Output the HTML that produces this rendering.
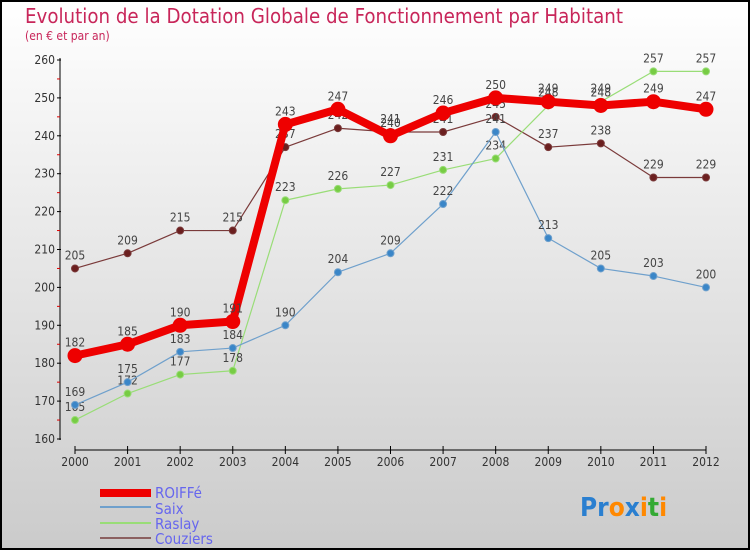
<!DOCTYPE html>
<html><head><meta charset="utf-8"><style>
body{margin:0}
svg text{font-family:"DejaVu Sans Condensed","Liberation Sans",sans-serif}
</style></head><body>
<svg id="c" width="750" height="550" xmlns="http://www.w3.org/2000/svg">
<defs><linearGradient id="bg" x1="0" y1="0" x2="0" y2="1"><stop offset="0" stop-color="#ffffff"/><stop offset="1" stop-color="#cbcbcb"/></linearGradient></defs>
<rect x="1" y="1" width="748" height="548" fill="url(#bg)" stroke="#000" stroke-width="2"/>
<text x="25" y="23" font-size="20" fill="#c8265a" textLength="598" lengthAdjust="spacingAndGlyphs">Evolution de la Dotation Globale de Fonctionnement par Habitant</text>
<text x="25" y="40" font-size="12" fill="#c8265a">(en € et par an)</text>
<g id="axes"></g><g id="series"></g>
<g>
<rect x="100" y="489" width="51" height="8" fill="#ee0000"/>
<text x="155" y="498" font-size="15" fill="#6666ee">ROIFFé</text>
<rect x="100" y="506" width="51" height="2" fill="#6fa0cc"/>
<text x="155" y="514" font-size="15" fill="#6666ee">Saix</text>
<rect x="100" y="522" width="51" height="2" fill="#99dd77"/>
<text x="155" y="529" font-size="15" fill="#6666ee">Raslay</text>
<rect x="100" y="537" width="51" height="2" fill="#8b6060"/>
<text x="155" y="544" font-size="15" fill="#6666ee">Couziers</text>
</g>
<text x="580" y="516" font-size="26" font-weight="bold"><tspan fill="#2a7fd0">Pr</tspan><tspan fill="#ff8800">o</tspan><tspan fill="#2a7fd0">x</tspan><tspan fill="#ff8800">i</tspan><tspan fill="#33aa33">t</tspan><tspan fill="#ff8800">i</tspan></text>
</svg>
<script>
const years=[2000,2001,2002,2003,2004,2005,2006,2007,2008,2009,2010,2011,2012];
const yTicks=[160,170,180,190,200,210,220,230,240,250,260];
const roiffe=[182,185,190,191,243,247,240,246,250,249,248,249,247];
const saix=[169,175,183,184,190,204,209,222,241,213,205,203,200];
const raslay=[165,172,177,178,223,226,227,231,234,248,249,257,257];
const couziers=[205,209,215,215,237,242,241,241,245,237,238,229,229];
const NS="http://www.w3.org/2000/svg";
const X=i=>75+i*(706-75)/(years.length-1);
const Y=v=>439-(v-160)*(439-60)/100;
function mk(t,a,p){const e=document.createElementNS(NS,t);for(const k in a)e.setAttribute(k,a[k]);p.appendChild(e);return e;}
const ax=document.getElementById('axes');
let l=mk('line',{x1:60,y1:58,x2:60,y2:440,stroke:'#000'},ax);


l=mk('line',{x1:75,y1:450,x2:706,y2:450,stroke:'#000'},ax);


yTicks.forEach(v=>{
 mk('line',{x1:57,y1:Y(v),x2:61,y2:Y(v),stroke:'#000'},ax);
 if(v<260) mk('line',{x1:57,y1:Y(v+5),x2:60,y2:Y(v+5),stroke:'#d00'},ax);
 const t=mk('text',{x:55,y:Y(v)+4,'font-size':12,'text-anchor':'end',fill:'#333'},ax);t.textContent=v;
 
 
});
years.forEach((y,i)=>{
 mk('line',{x1:X(i),y1:446,x2:X(i),y2:454,stroke:'#000'},ax);
 const t=mk('text',{x:X(i),y:466,'font-size':12,'text-anchor':'middle',fill:'#333'},ax);t.textContent=y;
 
 
});
const sg=document.getElementById('series');
function series(name,data,color,w,r,fill){
 const g=mk('g',{},sg);
 
 
 mk('polyline',{points:data.map((v,i)=>X(i)+','+Y(v)).join(' '),fill:'none',stroke:color,'stroke-width':w,'stroke-linejoin':'round'},g);
 data.forEach((v,i)=>{
  const c=mk('circle',{cx:X(i),cy:Y(v),r:r,fill:fill,stroke:color,'stroke-width':1},g);
  
  
  const t=mk('text',{x:X(i),y:Y(v)-9,'font-size':12,'text-anchor':'middle',fill:'#444'},g);t.textContent=v;
  
  
 });
}
series('couziers',couziers,'#7a3a3a',1.2,3.5,'#6b1f1f');
series('raslay',raslay,'#99dd77',1.2,3.5,'#77cc44');
series('saix',saix,'#6fa0cc',1.2,3.5,'#3a86c8');
series('roiffe',roiffe,'#ee0000',8,7,'#ee0000');
</script>
</body></html>
